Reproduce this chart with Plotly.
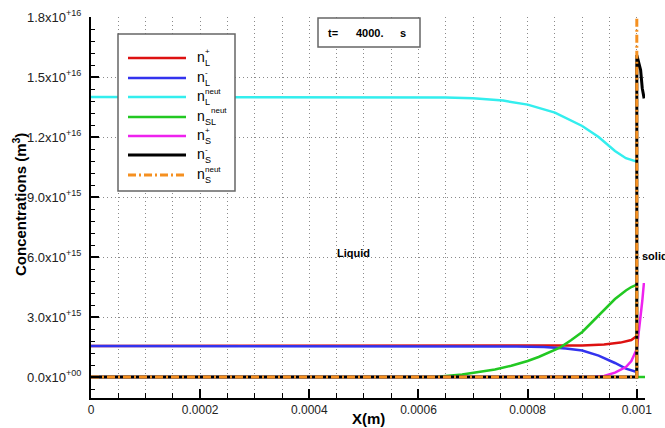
import plotly.graph_objects as go

# ---------------- data ----------------
red_x = [0, 0.0006, 0.00075, 0.00085, 0.0009, 0.00094, 0.00097, 0.00099, 0.001]
red_y = [1.55e15, 1.55e15, 1.55e15, 1.56e15, 1.58e15, 1.63e15, 1.72e15, 1.85e15, 2.05e15]

blue_x = [0, 0.0007, 0.00078, 0.00083, 0.00087, 0.0009, 0.00093, 0.00096, 0.00098, 0.001]
blue_y = [1.55e15, 1.55e15, 1.53e15, 1.5e15, 1.43e15, 1.32e15, 1.07e15, 0.7e15, 0.42e15, 0.25e15]

cyan_x = [0, 0.0006, 0.00065, 0.0007, 0.000755, 0.0008, 0.00085, 0.0009, 0.00093, 0.00096, 0.00098, 0.001]
cyan_y = [14.0e15, 14.0e15, 13.98e15, 13.94e15, 13.82e15, 13.62e15, 13.22e15, 12.55e15, 12.0e15,
          11.3e15, 10.94e15, 10.77e15]

green_x = [0, 0.00063, 0.00068, 0.00071, 0.00074, 0.00077, 0.0008, 0.00082, 0.00084, 0.00086,
           0.00088, 0.0009, 0.00092, 0.00094, 0.00096, 0.00098, 0.00099, 0.001, 0.001, 0.001015]
green_y = [0, 0, 0.12e15, 0.25e15, 0.38e15, 0.56e15, 0.8e15, 1.0e15, 1.22e15, 1.48e15,
           1.85e15, 2.25e15, 2.8e15, 3.35e15, 3.9e15, 4.33e15, 4.5e15, 4.62e15, 0, 0]

magenta_x = [0, 0.00092, 0.00094, 0.00096, 0.00098, 0.00099, 0.001, 0.001004, 0.00101, 0.001013]
magenta_y = [0, 0, 0.05e15, 0.22e15, 0.5e15, 0.8e15, 1.4e15, 2.3e15, 3.8e15, 4.7e15]

black_x = [0, 0.001, 0.001, 0.001007, 0.00101, 0.0010134]
black_y = [0, 0, 16.1e15, 15.35e15, 14.43e15, 13.93e15]

orange_x = [0, 0.001, 0.001]
orange_y = [0, 0, 2.0e16]

x_ticks = [0, 0.0002, 0.0004, 0.0006, 0.0008, 0.001]
x_ticktext = ["0", "0.0002", "0.0004", "0.0006", "0.0008", "0.001"]
y_ticks = [0, 3e15, 6e15, 9e15, 1.2e16, 1.5e16, 1.8e16]
y_ticktext = ["0.0x10<sup>+00</sup>", "3.0x10<sup>+15</sup>", "6.0x10<sup>+15</sup>",
              "9.0x10<sup>+15</sup>", "1.2x10<sup>+16</sup>", "1.5x10<sup>+16</sup>",
              "1.8x10<sup>+16</sup>"]

series = [
    ("n", "L", "+", red_x, red_y, "#dd1111", None),
    ("n", "L", "-", blue_x, blue_y, "#3333ee", None),
    ("n", "L", "neut", cyan_x, cyan_y, "#33eeee", None),
    ("n", "SL", "neut", green_x, green_y, "#22c822", None),
    ("n", "S", "+", magenta_x, magenta_y, "#ee22ee", None),
    ("n", "S", "-", black_x, black_y, "#000000", None),
    ("n", "S", "neut", orange_x, orange_y, "#f59020", "8px,3px,2px,3px"),
]

FONT = "Arial, Liberation Sans, sans-serif"

# plot-area pixel frame (for placing decorations)
L, R, T, B = 91, 645, 17, 398
W, H = R - L, B - T


def px(x):
    return (x - L) / W


def py(y):
    return (B - y) / H


fig = go.Figure()
for base, sub, sup, xs, ys, col, dash in series:
    fig.add_trace(go.Scatter(
        x=xs, y=ys, mode="lines",
        line=dict(color=col, width=3 if col in ("#000000", "#f59020") else 2.5,
                  dash=dash if dash else "solid"),
        name=f"{base}<sub>{sub}</sub><sup>{sup}</sup>",
        showlegend=False, hoverinfo="skip",
    ))

shapes = []
annotations = []

# legend box
shapes.append(dict(type="rect", xref="paper", yref="paper",
                   x0=px(118), x1=px(235), y0=py(191), y1=py(34),
                   line=dict(color="#666666", width=1.5), fillcolor="white", layer="above"))
row_y = [58, 78, 97, 117, 136, 155, 175]
for (base, sub, sup, xs, ys, col, dash), ry in zip(series, row_y):
    shapes.append(dict(type="line", xref="paper", yref="paper",
                       x0=px(128), x1=px(186), y0=py(ry), y1=py(ry),
                       line=dict(color=col, width=3 if col in ("#000000", "#f59020") else 2.5,
                                 dash=dash if dash else "solid"),
                       layer="above"))
    annotations.append(dict(text=base, xref="paper", yref="paper", x=px(195), y=py(ry - 1),
                            xanchor="left", yanchor="middle", showarrow=False,
                            font=dict(family=FONT, size=14, color="black")))
    annotations.append(dict(text=sub, xref="paper", yref="paper", x=px(203), y=py(ry + 5),
                            xanchor="left", yanchor="middle", showarrow=False,
                            font=dict(family=FONT, size=9, color="black")))
    sup_x = 209 if sub == "SL" else 203
    annotations.append(dict(text=sup, xref="paper", yref="paper", x=px(sup_x), y=py(ry - 6),
                            xanchor="left", yanchor="middle", showarrow=False,
                            font=dict(family=FONT, size=8, color="black")))

# time box
shapes.append(dict(type="rect", xref="paper", yref="paper",
                   x0=px(318), x1=px(420), y0=py(47), y1=py(18),
                   line=dict(color="#666666", width=1.5), fillcolor="white", layer="above"))
for txt, xl in [("t=", 326), ("4000.", 354), ("s", 398)]:
    annotations.append(dict(text=f"<b>{txt}</b>", xref="paper", yref="paper", x=px(xl), y=py(33),
                            xanchor="left", yanchor="middle", showarrow=False,
                            font=dict(family=FONT, size=11, color="black")))

# region labels
annotations.append(dict(text="<b>Liquid</b>", xref="paper", yref="paper", x=px(353), y=py(253),
                        xanchor="center", yanchor="middle", showarrow=False,
                        font=dict(family=FONT, size=11, color="black")))
annotations.append(dict(text="<b>solid</b>", xref="paper", yref="paper", x=px(640), y=py(256),
                        xanchor="left", yanchor="middle", showarrow=False,
                        font=dict(family=FONT, size=11, color="black")))

# axis titles
annotations.append(dict(text="<b>X(m)</b>", xref="paper", yref="paper", x=px(368), y=py(418),
                        xanchor="center", yanchor="middle", showarrow=False,
                        font=dict(family=FONT, size=15, color="black")))
annotations.append(dict(text="<b>Concentrations (m<sup>3</sup>)</b>", xref="paper", yref="paper",
                        x=px(19), y=py(205), xanchor="center", yanchor="middle", showarrow=False,
                        textangle=-90, font=dict(family=FONT, size=15, color="black")))

grid_col = "#8a8a8a"
fig.update_layout(
    width=665, height=428,
    margin=dict(l=L, r=665 - R, t=T, b=428 - B, autoexpand=False),
    paper_bgcolor="white", plot_bgcolor="white",
    showlegend=False,
    shapes=shapes, annotations=annotations,
    font=dict(family=FONT, color="black"),
    xaxis=dict(
        automargin=False,
        range=[0, 0.001015], tickvals=x_ticks, ticktext=x_ticktext,
        ticks="inside", ticklen=9, tickwidth=1.5, tickcolor="black",
        showline=True, linecolor="black", linewidth=2,
        showgrid=True, gridcolor=grid_col, gridwidth=1, griddash="1px,3px",
        zeroline=False, tickfont=dict(family=FONT, size=12, color="#222"),
        minor=dict(dtick=0.00005, tick0=0, ticks="inside", ticklen=5, tickcolor="black",
                   tickwidth=1, showgrid=True, gridcolor=grid_col, gridwidth=1, griddash="1px,3px"),
    ),
    yaxis=dict(
        automargin=False,
        range=[-1.05e15, 1.8e16], tickvals=y_ticks, ticktext=y_ticktext,
        ticks="inside", ticklen=8, tickwidth=1.5, tickcolor="black",
        showline=True, linecolor="black", linewidth=2,
        showgrid=True, gridcolor=grid_col, gridwidth=1, griddash="1px,3px",
        zeroline=False, tickfont=dict(family=FONT, size=13, color="#222"),
        ticklabelstandoff=5,
        minor=dict(dtick=6e14, tick0=0, ticks="inside", ticklen=4, tickcolor="black",
                   tickwidth=1, showgrid=False),
    ),
)

fig.write_html("out.html", config={"displayModeBar": False},
               post_script="document.body.style.margin='0';document.body.style.overflow='hidden';")
